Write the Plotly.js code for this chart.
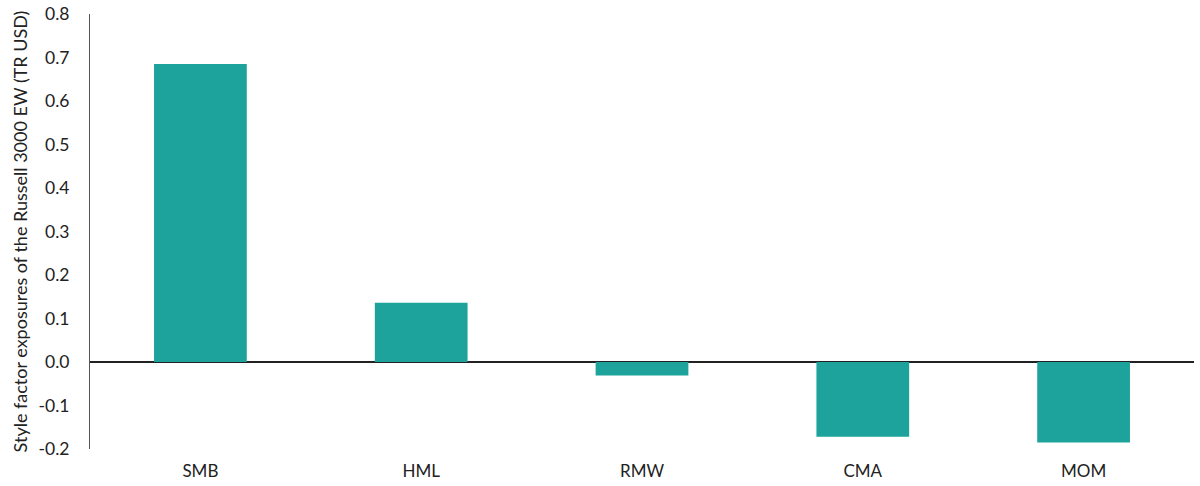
<!DOCTYPE html>
<html>
<head>
<meta charset="utf-8">
<script src="https://cdn.plot.ly/plotly-3.0.1.min.js"></script>
<style>html,body{margin:0;padding:0;background:#fff;}#chart{width:1200px;height:486px;}</style>
</head>
<body>
<div id="chart"></div>
<script>
const categories = ["SMB", "HML", "RMW", "CMA", "MOM"];
const exposures = [0.685, 0.136, -0.031, -0.172, -0.185];
const yTickVals = [-0.2, -0.1, 0.0, 0.1, 0.2, 0.3, 0.4, 0.5, 0.6, 0.7, 0.8];
const yTickText = ["-0.2", "-0.1", "0.0", "0.1", "0.2", "0.3", "0.4", "0.5", "0.6", "0.7", "0.8"];
const yTitle = "Style factor exposures of the Russell 3000 EW (TR USD)";

const trace = {
  type: "bar",
  x: categories,
  y: exposures,
  width: 0.42,
  marker: {color: "#1da39c"},
  hoverinfo: "x+y"
};

const layout = {
  width: 1200, height: 486,
  margin: {l: 90, r: 6, t: 14, b: 37},
  paper_bgcolor: "#fff", plot_bgcolor: "#fff",
  font: {family: "Lato, 'Open Sans', sans-serif", color: "#222"},
  showlegend: false,
  bargap: 0.58,
  xaxis: {
    showline: false, showgrid: false, zeroline: false,
    ticks: "", tickfont: {size: 17, color: "#222"},
    ticklabelstandoff: 10,
    fixedrange: true
  },
  yaxis: {
    range: [-0.2, 0.8],
    tickvals: yTickVals, ticktext: yTickText,
    showgrid: false,
    showline: true, linecolor: "#555", linewidth: 1,
    zeroline: true, zerolinecolor: "#222", zerolinewidth: 1.3,
    ticks: "", tickfont: {size: 17.5, color: "#222"},
    ticklabelstandoff: 16,
    title: {text: yTitle, font: {size: 18, color: "#222"}, standoff: 6},
    fixedrange: true
  }
};

Plotly.newPlot("chart", [trace], layout, {displayModeBar: false, staticPlot: true});
</script>
</body>
</html>
